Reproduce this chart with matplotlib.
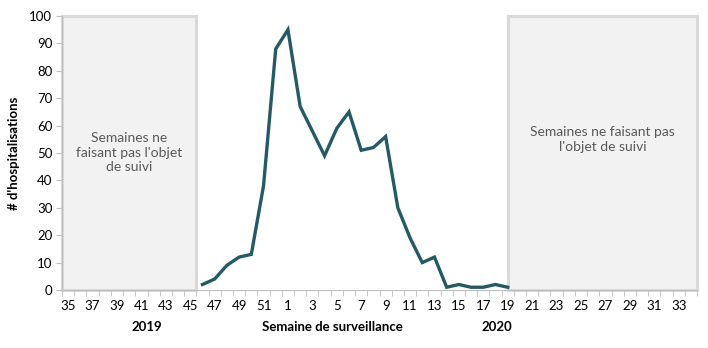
import matplotlib.pyplot as plt
from matplotlib.patches import Rectangle

weeks = list(range(35, 53)) + list(range(1, 35))
tick_labels = [str(w) if i % 2 == 0 else "" for i, w in enumerate(weeks)]

# hospitalisations, week 46 (2019) to week 19 (2020)
obs_weeks = [46, 47, 48, 49, 50, 51, 52, 1, 2, 3, 4, 5, 6, 7, 8, 9, 10,
             11, 12, 13, 14, 15, 16, 17, 18, 19]
hosp = [2, 4, 9, 12, 13, 38, 88, 95, 67, 58, 49, 59, 65, 51, 52, 56, 30,
        19, 10, 12, 1, 2, 1, 1, 2, 1]

plt.rcParams['font.family'] = ['Lato', 'DejaVu Sans']

fig = plt.figure(figsize=(7.08, 3.48), dpi=100)
ax = fig.add_axes([0.0876, 0.1667, 0.8969, 0.7873])

# x positions: 2019 weeks first, then 2020
xpos = [weeks.index(w) if w >= 35 else 17 + w for w in obs_weeks]

grey_edge = '#d9d9d9'
grey_fill = '#f2f2f2'
ax.add_patch(Rectangle((-0.5, 0), 11, 100, facecolor=grey_fill,
                       edgecolor=grey_edge, linewidth=2.2, zorder=1, clip_on=False))
ax.add_patch(Rectangle((36, 0), 15.5, 100, facecolor=grey_fill,
                       edgecolor=grey_edge, linewidth=2.2, zorder=1, clip_on=False))

ax.text(5.0, 50, "Semaines ne\nfaisant pas l'objet\nde suivi", ha='center',
        va='center', fontsize=10, color='#595959', linespacing=1.25)
ax.text(43.75, 55, "Semaines ne faisant pas\nl'objet de suivi", ha='center',
        va='center', fontsize=10, color='#595959', linespacing=1.25)

ax.plot(xpos, hosp, color='#245a65', linewidth=2.4, zorder=3,
        solid_joinstyle='miter')

ax.set_xlim(-0.5, 51.5)
ax.set_ylim(0, 100)
ax.set_yticks(range(0, 101, 10))
ax.set_xticks(range(len(weeks)))
ax.set_xticklabels(tick_labels)
ax.set_xticks([i - 0.5 for i in range(len(weeks) + 1)], minor=True)
ax.tick_params(axis='x', which='major', length=0, pad=7, labelsize=9.5)
ax.tick_params(axis='x', which='minor', length=4, color='#bfbfbf', direction='out')
ax.tick_params(axis='y', length=4, color='#bfbfbf', labelsize=9.5, pad=3)

for s in ['top', 'right']:
    ax.spines[s].set_visible(False)
for s in ['left', 'bottom']:
    ax.spines[s].set_color('#bfbfbf')

ax.set_ylabel("# d'hospitalisations", fontsize=9.5, fontweight='bold', labelpad=7)

fig.text(147 / 708, 1 - 327 / 348, "2019", ha='center', va='center',
         fontsize=9.5, fontweight='bold')
fig.text(497 / 708, 1 - 327 / 348, "2020", ha='center', va='center',
         fontsize=9.5, fontweight='bold')
fig.text(332 / 708, 1 - 327 / 348, "Semaine de surveillance", ha='center',
         va='center', fontsize=9.5, fontweight='bold')

fig.savefig('out.png', dpi=100)
